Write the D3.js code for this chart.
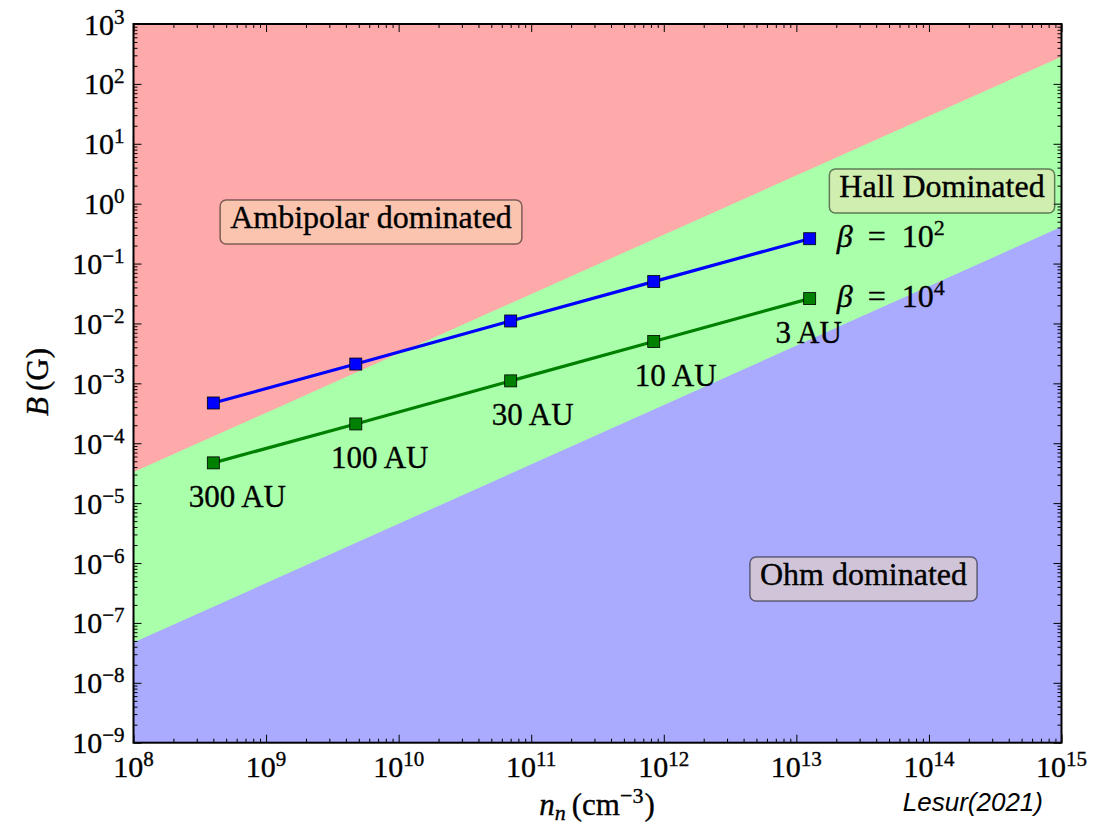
<!DOCTYPE html>
<html>
<head>
<meta charset="utf-8">
<script src="https://cdn.jsdelivr.net/npm/d3@7"></script>
<style>
  html, body { margin: 0; padding: 0; background: #fff; }
  svg { display: block; }
  text { font-family: "Liberation Serif", "DejaVu Serif", serif; fill: #000; }
  text.serif { stroke: #000; stroke-width: 0.35px; }
</style>
</head>
<body>
<svg id="chart" width="1107" height="824"></svg>
<script>
// Neutral density (cm^-3) at each disc radius
const nDensity = [4.0e8, 4.75e9, 7.0e10, 8.4e11, 1.26e13];
// Field strength (G) for the two plasma-beta profiles
const bBeta2 = [4.7e-4, 2.1e-3, 1.1e-2, 5.0e-2, 2.6e-1];
const bBeta4 = [4.7e-5, 2.1e-4, 1.1e-3, 5.0e-3, 2.6e-2];
const radiusLabels = ["300 AU", "100 AU", "30 AU", "10 AU", "3 AU"];

// Regime boundaries, sampled at the two ends of the density range
const boundaryN = [1e8, 1e15];
const ambiHallB = [3.3e-5, 284];
const hallOhmB = [4.7e-8, 0.41];

// Decade exponents for the tick labels
const xTickExps = [8, 9, 10, 11, 12, 13, 14, 15];
const yTickExps = [-9, -8, -7, -6, -5, -4, -3, -2, -1, 0, 1, 2, 3];

const svg = d3.select("#chart");
const plotL = 133.5, plotR = 1061.5, plotT = 24, plotB = 742.7;
const W = plotR - plotL, H = plotB - plotT;

const x = d3.scaleLog().domain([1e8, 1e15]).range([0, W]);
const y = d3.scaleLog().domain([1e-9, 1e3]).range([H, 0]);

const g = svg.append("g").attr("transform", `translate(${plotL},${plotT})`);

// Regime shading: ambipolar everywhere, then Hall and Ohm bands below their boundaries
g.append("rect").attr("width", W).attr("height", H).attr("fill", "#ffaaaa");

const bandArea = d3.area()
  .x(d => x(d.n))
  .y0(H)
  .y1(d => y(d.b));

g.append("path")
  .datum(boundaryN.map((n, i) => ({ n, b: ambiHallB[i] })))
  .attr("d", bandArea).attr("fill", "#aaffaa");
g.append("path")
  .datum(boundaryN.map((n, i) => ({ n, b: hallOhmB[i] })))
  .attr("d", bandArea).attr("fill", "#aaaaff");

// Ticks (inward, on all four sides)
const pow10 = e => Math.pow(10, e);
const xMajor = xTickExps.map(pow10);
const yMajor = yTickExps.map(pow10);
const minorOf = (lo, hi) => {
  const out = [];
  for (let e = lo; e < hi; e++) for (let k = 2; k <= 9; k++) out.push(k * Math.pow(10, e));
  return out;
};
const xMinor = minorOf(8, 15);
const yMinor = minorOf(-9, 3);

function tickAxis(axisFn, scale, values, size, transform) {
  const a = g.append("g").attr("transform", transform || null)
    .call(axisFn(scale).tickValues(values).tickSize(-size).tickSizeOuter(0).tickFormat(""));
  a.select(".domain").remove();
  a.selectAll(".tick line").attr("stroke", "#000").attr("stroke-width", 1);
  return a;
}
tickAxis(d3.axisBottom, x, xMajor, 8, `translate(0,${H})`);
tickAxis(d3.axisBottom, x, xMinor, 4, `translate(0,${H})`);
tickAxis(d3.axisTop, x, xMajor, 8);
tickAxis(d3.axisTop, x, xMinor, 4);
tickAxis(d3.axisLeft, y, yMajor, 8);
tickAxis(d3.axisLeft, y, yMinor, 4);
tickAxis(d3.axisRight, y, yMajor, 8, `translate(${W},0)`);
tickAxis(d3.axisRight, y, yMinor, 4, `translate(${W},0)`);

// Frame
g.append("rect").attr("width", W).attr("height", H)
  .attr("fill", "none").attr("stroke", "#000").attr("stroke-width", 2);

// Power-of-ten labels
function powLabel(sel, exp) {
  sel.append("tspan").text("10");
  sel.append("tspan").attr("dy", -11).attr("font-size", 21)
    .text(exp < 0 ? "\u2212" + (-exp) : String(exp));
}
xTickExps.forEach(e => {
  const t = g.append("text").attr("class", "serif").attr("x", x(pow10(e))).attr("y", H + 34)
    .attr("text-anchor", "middle").attr("font-size", 30);
  powLabel(t, e);
});
yTickExps.forEach(e => {
  const t = g.append("text").attr("class", "serif").attr("x", -9).attr("y", y(pow10(e)) + 10.5)
    .attr("text-anchor", "end").attr("font-size", 30);
  powLabel(t, e);
});

// Axis titles
const yt = svg.append("text").attr("class", "serif")
  .attr("transform", "translate(48,382) rotate(-90)")
  .attr("text-anchor", "middle").attr("font-size", 31);
yt.append("tspan").attr("font-style", "italic").text("B");
yt.append("tspan").text("\u2009(G)");

const xt = svg.append("text").attr("class", "serif").attr("x", 597).attr("y", 815)
  .attr("text-anchor", "middle").attr("font-size", 31);
xt.append("tspan").attr("font-style", "italic").text("n");
xt.append("tspan").attr("font-style", "italic").attr("font-size", 22).attr("dy", 5).text("n");
xt.append("tspan").attr("dy", -5).attr("dx", 6).text("(cm");
xt.append("tspan").attr("font-size", 22).attr("dy", -12).text("\u22123");
xt.append("tspan").attr("dy", 12).attr("dx", 1).text(")");

svg.append("text").attr("x", 1043).attr("y", 811)
  .attr("text-anchor", "end").attr("font-size", 26).attr("font-style", "italic")
  .style("font-family", "'Liberation Sans', Arial, sans-serif")
  .text("Lesur(2021)");

// Beta profiles
const profiles = [
  { b: bBeta2, color: "#0000ff", exp: 2 },
  { b: bBeta4, color: "#008000", exp: 4 }
];
const line = d3.line().x(d => x(d.n)).y(d => y(d.b));
profiles.forEach(p => {
  const pts = nDensity.map((n, i) => ({ n, b: p.b[i] }));
  g.append("path").datum(pts).attr("d", line)
    .attr("fill", "none").attr("stroke", p.color).attr("stroke-width", 3.2);
  g.selectAll(null).data(pts).enter().append("rect")
    .attr("x", d => x(d.n) - 6).attr("y", d => y(d.b) - 6)
    .attr("width", 12).attr("height", 12)
    .attr("fill", p.color).attr("stroke", "#000").attr("stroke-width", 0.8);
  const last = pts[pts.length - 1];
  const lx = x(last.n), ly = y(last.b) + 8.5;
  const t = g.append("text").attr("class", "serif").attr("y", ly).attr("font-size", 32);
  t.append("tspan").attr("x", lx + 27).attr("font-style", "italic").text("\u03b2");
  t.append("tspan").attr("x", lx + 58).text("=");
  t.append("tspan").attr("x", lx + 92).text("10");
  t.append("tspan").attr("font-size", 22).attr("dy", -12).text(String(p.exp));
});

// Radius labels beneath the beta = 10^4 profile
const labelDx = [24, 24, 22, 22, -1];
radiusLabels.forEach((lab, i) => {
  g.append("text").attr("class", "serif")
    .attr("x", x(nDensity[i]) + labelDx[i])
    .attr("y", y(bBeta4[i]) + 44.5)
    .attr("text-anchor", "middle").attr("font-size", 31)
    .text(lab);
});

// Regime name boxes
function regimeBox(cx, baseline, label) {
  const grp = svg.append("g");
  const t = grp.append("text").attr("class", "serif").attr("x", cx).attr("y", baseline)
    .attr("text-anchor", "middle").attr("font-size", 32).text(label);
  const bb = t.node().getBBox();
  grp.insert("rect", "text")
    .attr("x", bb.x - 10).attr("y", bb.y + 1)
    .attr("width", bb.width + 20).attr("height", bb.height + 8)
    .attr("rx", 6).attr("ry", 6)
    .attr("fill", "#f5deb3").attr("fill-opacity", 0.5)
    .attr("stroke", "#000").attr("stroke-opacity", 0.5).attr("stroke-width", 1.5);
}
regimeBox(371, 228, "Ambipolar dominated");
regimeBox(942, 197, "Hall Dominated");
regimeBox(863.5, 585, "Ohm dominated");
</script>
</body>
</html>
